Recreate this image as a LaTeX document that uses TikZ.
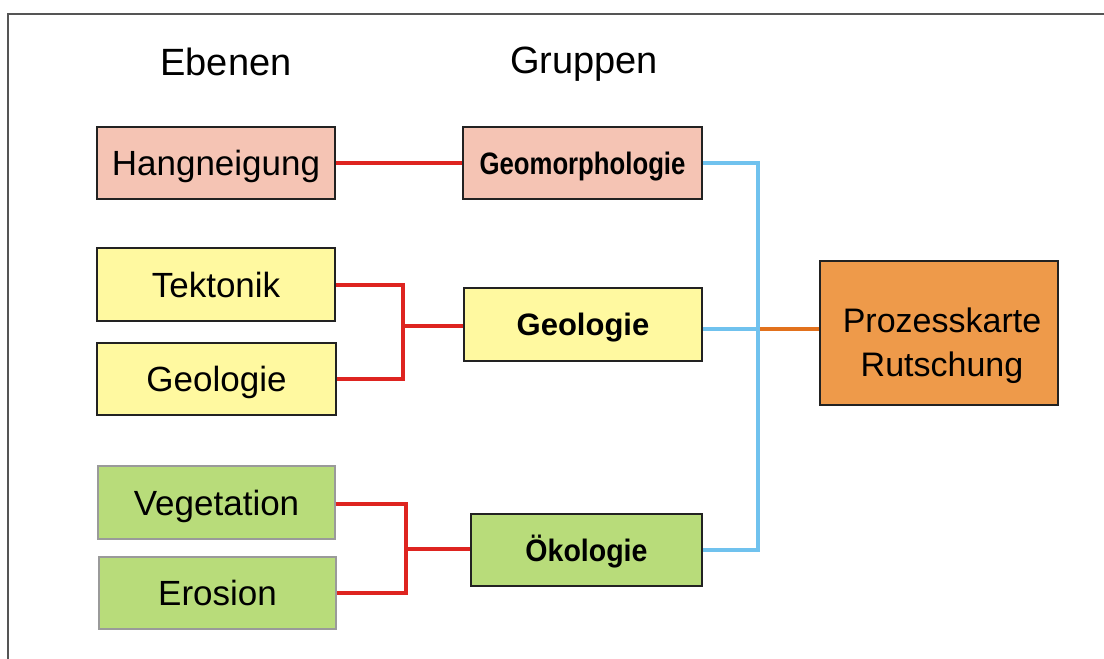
\documentclass[tikz,border=0pt]{standalone}
\usepackage{fontspec}
\usepackage{graphicx}
\setmainfont{Liberation Sans}
\definecolor{pinkfill}{HTML}{F5C4B4}
\definecolor{yellowfill}{HTML}{FFF9A0}
\definecolor{greenfill}{HTML}{B8DC7A}
\definecolor{orangefill}{HTML}{EE9A4A}
\definecolor{boxline}{HTML}{222222}
\definecolor{softline}{HTML}{9A9A9A}
\definecolor{framecol}{HTML}{555555}
\definecolor{redline}{HTML}{DE2420}
\definecolor{blueline}{HTML}{70C2EE}
\definecolor{orangeline}{HTML}{E2711D}
\tikzset{
  box/.style={draw=boxline, line width=2pt, inner sep=0pt, minimum width=238pt,
    minimum height=72pt, text height=25pt, text depth=0pt,
    font=\fontsize{35}{42}\selectfont},
  softbox/.style={box, draw=softline, line width=1.4pt},
  groupfont/.style={font=\fontsize{31}{37}\selectfont\bfseries, text height=22pt},
  header/.style={inner sep=0pt, font=\fontsize{38}{45}\selectfont},
  redwire/.style={draw=redline, line width=4pt},
  bluewire/.style={draw=blueline, line width=4pt},
  orangewire/.style={draw=orangeline, line width=4pt}
}
\begin{document}
\begin{tikzpicture}[x=1pt,y=-1pt]
\useasboundingbox (0,0) rectangle (1104,659);
% outer frame
\draw[framecol, line width=2pt] (7.5,662) -- (7.5,13.5) -- (1106,13.5);

% column headings
\node[header] (hEbenen) at (226,62) {Ebenen};
\node[header] (hGruppen) at (584,64) {Gruppen};

% layers
\node[box, fill=pinkfill] (hang) at (216,163) {Hangneigung};
\node[box, fill=yellowfill, minimum height=73pt] (tek) at (216,284.5) {Tektonik};
\node[box, fill=yellowfill, minimum width=239pt] (geoL) at (216.5,379) {Geologie};
\node[softbox, fill=greenfill, minimum width=237pt, minimum height=73pt] (veg) at (216.5,502.5) {Vegetation};
\node[softbox, fill=greenfill, minimum width=237pt] (ero) at (217.5,593) {Erosion};

% groups
\node[box, groupfont, fill=pinkfill, minimum width=239pt] (geomorph) at (582.5,163) {\scalebox{0.83}[1]{Geomorphologie}};
\node[box, groupfont, fill=yellowfill, minimum height=73pt] (geoG) at (583,324.5) {Geologie};
\node[box, groupfont, fill=greenfill, minimum width=231pt] (oeko) at (586.5,550) {\scalebox{0.92}[1]{Ökologie}};

% result box and its two-line title
\node[box, fill=orangefill, minimum height=144pt] (proz) at (939,333) {};
\node[inner sep=0pt, align=center, font=\fontsize{34}{44}\selectfont]
  (prozText) at ([yshift=-13pt,xshift=3pt]proz.center) {Prozesskarte\\Rutschung};

% junction points
\coordinate (jGeo) at (403,326);
\coordinate (jOeko) at (406,549);
\coordinate (jBlue) at (758,329);

% layer-to-group connectors
\draw[redwire] (hang.east) -- (geomorph.west);
\draw[redwire] (tek.east) -- (tek.east -| jGeo) -- (geoL.east -| jGeo) -- (geoL.east);
\draw[redwire] (jGeo) -- (jGeo -| geoG.west);
\draw[redwire] ([yshift=-1pt]veg.east) -- ([yshift=-1pt]veg.east -| jOeko) -- (ero.east -| jOeko) -- (ero.east);
\draw[redwire] (jOeko) -- (jOeko -| oeko.west);

% group-to-result connectors
\draw[bluewire] (geomorph.east) -- (geomorph.east -| jBlue) -- (oeko.east -| jBlue) -- (oeko.east);
\draw[bluewire] (jBlue -| geoG.east) -- (jBlue);
\draw[orangewire] ([xshift=2pt]jBlue) -- (jBlue -| proz.west);
\end{tikzpicture}
\end{document}
